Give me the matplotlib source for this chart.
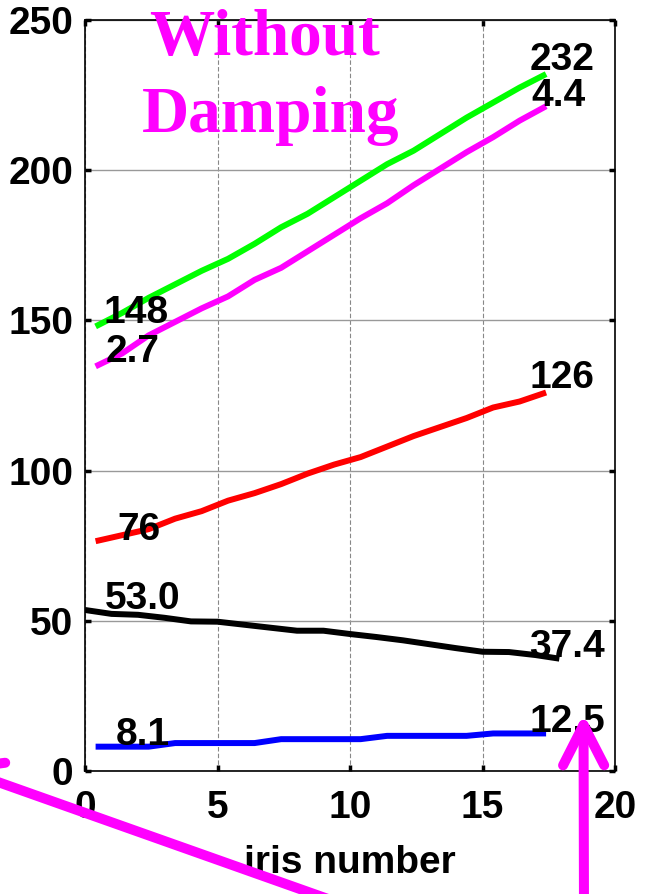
import matplotlib
matplotlib.use("Agg")
import matplotlib.pyplot as plt
from matplotlib import font_manager
from matplotlib.patches import FancyArrowPatch

# data
iris_x = [0.4, 1.4, 2.4, 3.4, 4.4, 5.4, 6.4, 7.4, 8.4, 9.4,
          10.4, 11.4, 12.4, 13.4, 14.4, 15.4, 16.4, 17.4]
green_vals = [148, 152.5, 157.5, 162, 166.5, 170.5, 175.5, 181, 185.5, 191,
              196.5, 202, 206.5, 212, 217.5, 222.5, 227.5, 232]
magenta_vals = [134.7, 139, 145, 149.5, 154, 158, 163.5, 167.5, 173, 178.5,
                184, 189, 195, 200.5, 206, 211, 216.5, 221.3]
red_vals = [76.5, 78.5, 80.5, 84, 86.5, 90, 92.5, 95.5, 99, 102,
            104.5, 108, 111.5, 114.5, 117.5, 121, 123, 126]
blue_vals = [8.1, 8.1, 8.1, 9.3, 9.3, 9.3, 9.3, 10.6, 10.6, 10.6,
             10.6, 11.7, 11.7, 11.7, 11.7, 12.5, 12.5, 12.5]

black_x = [0, 1, 2, 3, 4, 5, 6, 7, 8, 9,
           10, 11, 12, 13, 14, 15, 16, 17, 17.9]
black_vals = [53.6, 52.3, 52.0, 51.0, 49.8, 49.7, 48.7, 47.7, 46.7, 46.7,
              45.6, 44.6, 43.5, 42.2, 40.9, 39.7, 39.6, 38.6, 37.4]

# value labels: text, x, baseline y
end_labels = [("148", 1.92, 149.2), ("2.7", 1.81, 136.1), ("76", 2.04, 76.9),
              ("53.0", 2.17, 53.9), ("8.1", 2.17, 8.65),
              ("232", 18.0, 233.4), ("4.4", 17.85, 221.4), ("126", 18.0, 127.5),
              ("37.4", 18.2, 37.95), ("12.5", 18.2, 13.1)]

# narrow bold sans if there is one, else Liberation Sans (Arial metrics)
names = {f.name for f in font_manager.fontManager.ttflist}
if "Liberation Sans Narrow" in names:
    sans, fsize = "Liberation Sans Narrow", 29
else:
    sans, fsize = "Liberation Sans", 28
plt.rcParams["font.family"] = [sans, "DejaVu Sans"]
plt.rcParams["font.weight"] = "bold"
plt.rcParams["axes.labelweight"] = "bold"
plt.rcParams["font.size"] = fsize

fig = plt.figure(figsize=(6.45, 8.94), dpi=100)
ax = fig.add_axes([85 / 645, 123 / 894, 530 / 645, 751 / 894])

lw = 4.3
ax.plot(iris_x, green_vals, color="#00ff00", lw=lw, solid_capstyle="butt", zorder=3)
ax.plot(iris_x, magenta_vals, color="#ff00ff", lw=lw, solid_capstyle="butt", zorder=3)
ax.plot(iris_x, red_vals, color="#ff0000", lw=lw, solid_capstyle="butt", zorder=3)
ax.plot(black_x, black_vals, color="black", lw=lw, solid_capstyle="butt", zorder=3)
ax.plot(iris_x, blue_vals, color="#0000ff", lw=lw, solid_capstyle="butt", zorder=3)

for txt, x, y in end_labels:
    ax.text(x, y, txt, ha="center", va="baseline", fontsize=fsize,
            fontweight="bold", zorder=4)

ax.set_xlim(0, 20)
ax.set_ylim(0, 250)
ax.set_xticks([0, 5, 10, 15, 20])
ax.set_yticks([0, 50, 100, 150, 200, 250])
ax.tick_params(direction="in", length=4, width=2.5, top=True, right=True)
ax.tick_params(axis="x", pad=13.5)
ax.tick_params(axis="y", pad=8.5)
ax.set_xlabel("iris number", labelpad=14, fontweight="bold")

ax.grid(True, axis="x", color="#888888", lw=0.8, linestyle=(0, (4, 2)))
ax.grid(True, axis="y", color="#999999", lw=1.0, linestyle="-")
for sp in ax.spines.values():
    sp.set_linewidth(1.2)

# title in magenta serif
fig.text(264 / 645, (894 - 55) / 894, "Without", color="#ff00ff",
         family="Liberation Serif", fontweight="bold", fontsize=47,
         ha="center", va="baseline")
fig.text(271 / 645, (894 - 132) / 894, "Damping", color="#ff00ff",
         family="Liberation Serif", fontweight="bold", fontsize=47,
         ha="center", va="baseline")

# magenta arrows drawn on the figure
arrows = [((345, -11), (-50, 129)), ((584, -20), (583.5, 180))]
for tail, tip in arrows:
    arr = FancyArrowPatch((tail[0] / 645, tail[1] / 894), (tip[0] / 645, tip[1] / 894),
                          transform=fig.transFigure,
                          arrowstyle="->,head_length=2.9,head_width=1.48",
                          mutation_scale=10, lw=7.2, color="#ff00ff",
                          capstyle="round", joinstyle="round",
                          shrinkA=0, shrinkB=0, zorder=10)
    fig.add_artist(arr)

fig.savefig("out.png", dpi=100)
